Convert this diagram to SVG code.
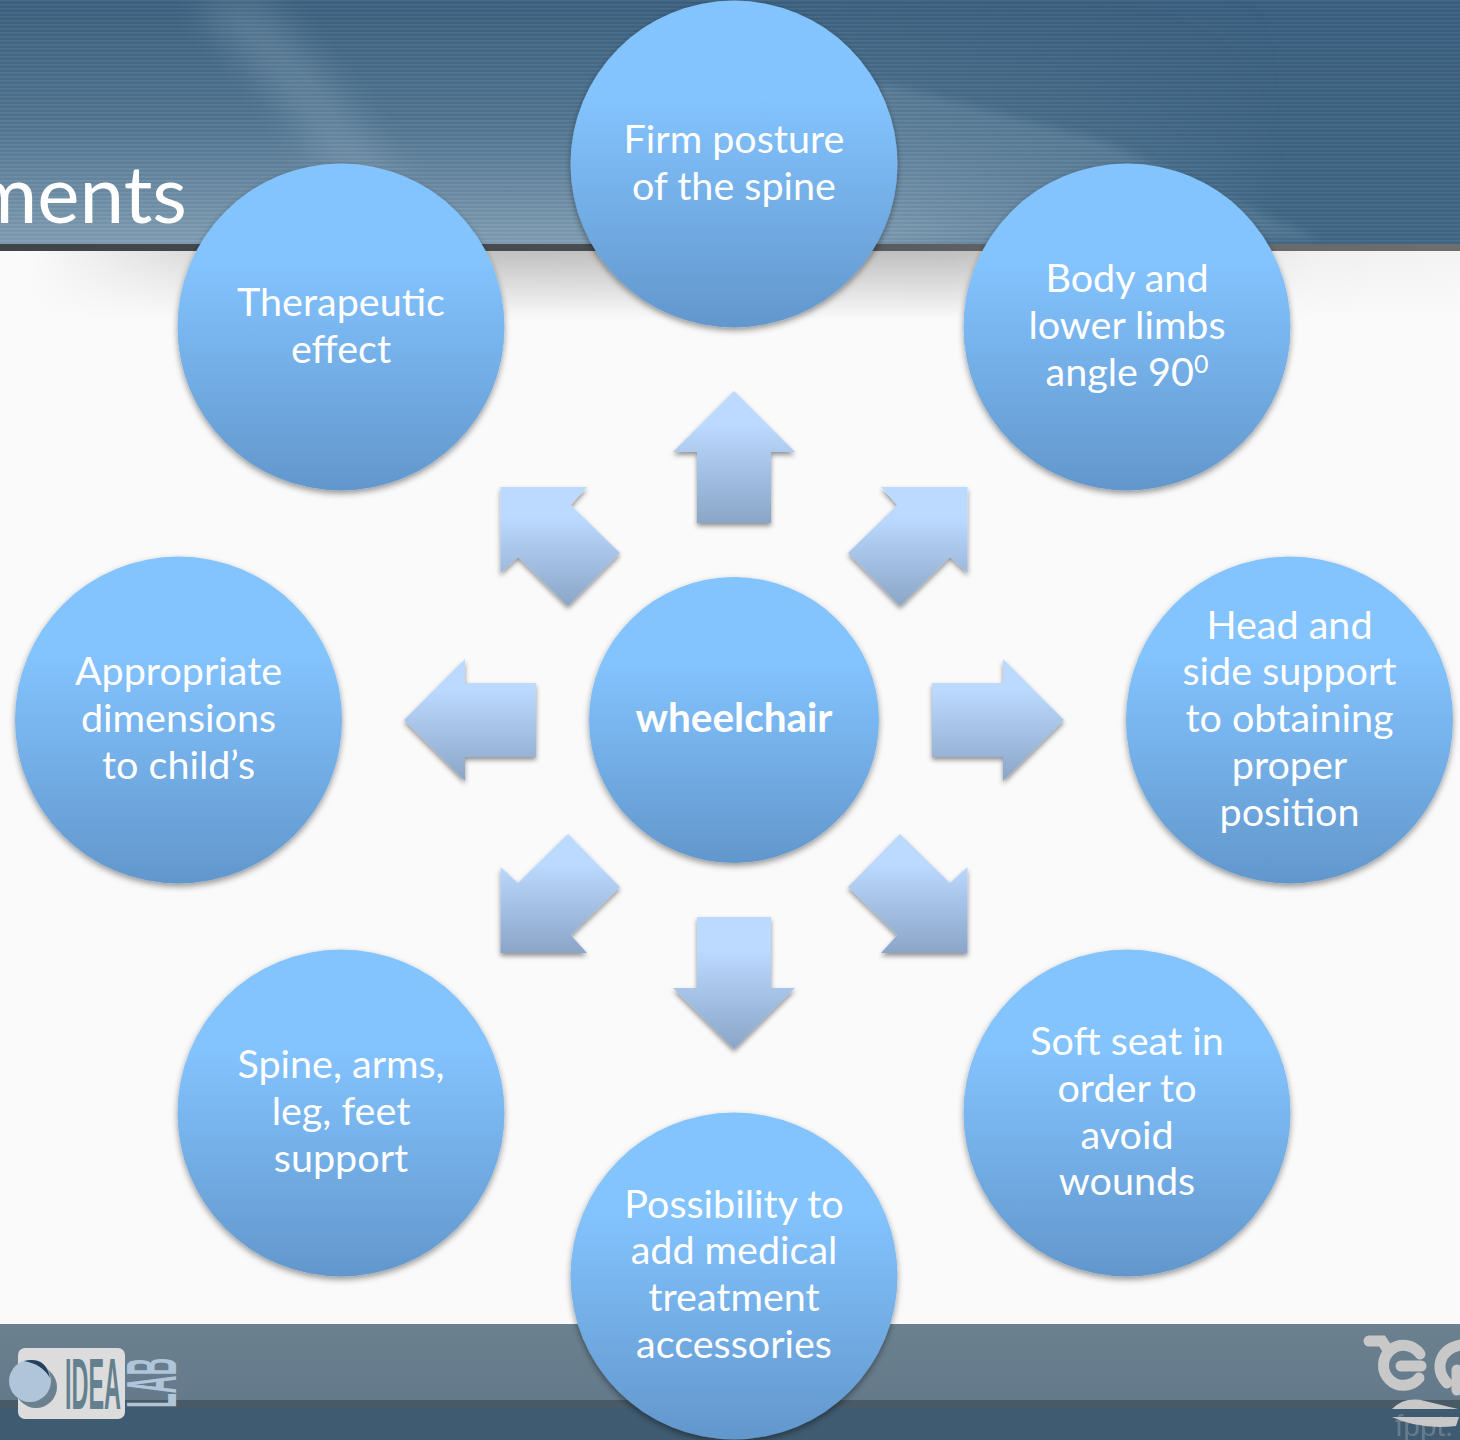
<svg xmlns="http://www.w3.org/2000/svg" width="1460" height="1440" viewBox="0 0 1460 1440">
<style>
.bub{fill:url(#bubble);filter:url(#sh)}
.arr{fill:url(#arrow);filter:url(#sh2)}
.t{font-family:"Lato","Liberation Sans",sans-serif;font-size:39.5px;fill:#fff;text-anchor:middle}
</style>
<defs>
<linearGradient id="bubble" x1="0" y1="0" x2="0" y2="1"><stop offset="0" stop-color="#83c4ff"/><stop offset=".3" stop-color="#83c3fe"/><stop offset="1" stop-color="#6297cc"/></linearGradient>
<linearGradient id="arrow" x1="0" y1="0" x2="0" y2="1"><stop offset="0" stop-color="#bcd9ff"/><stop offset=".25" stop-color="#bcd9ff"/><stop offset="1" stop-color="#8aa5c7"/></linearGradient>
<linearGradient id="head" x1="0" y1="0" x2="0" y2="1"><stop offset="0" stop-color="#3a5f7e"/><stop offset="1" stop-color="#3f6786"/></linearGradient>
<linearGradient id="headL" x1="0" y1="0" x2="0" y2="1"><stop offset="0" stop-color="#a9c0d0" stop-opacity=".02"/><stop offset=".5" stop-color="#a9c0d0" stop-opacity=".2"/><stop offset="1" stop-color="#a9c0d0" stop-opacity=".62"/></linearGradient>
<linearGradient id="fadeR" x1="0" y1="0" x2="1" y2="0"><stop offset="0" stop-color="#fff"/><stop offset=".55" stop-color="#fff"/><stop offset=".7" stop-color="#fff" stop-opacity=".55"/><stop offset=".88" stop-color="#fff" stop-opacity="0"/></linearGradient>
<mask id="headMask"><rect width="1460" height="246" fill="url(#fadeR)"/></mask>
<linearGradient id="foot" x1="0" y1="0" x2="0" y2="1"><stop offset="0" stop-color="#6b818f"/><stop offset="1" stop-color="#64798a"/></linearGradient>
<linearGradient id="shadeV" x1="0" y1="0" x2="0" y2="1"><stop offset="0" stop-color="#b8b8b8"/><stop offset="1" stop-color="#fafafa"/></linearGradient>
<linearGradient id="shadeH" x1="0" y1="0" x2="1" y2="0"><stop offset="0" stop-color="#fafafa"/><stop offset=".02" stop-color="#fafafa"/><stop offset=".22" stop-color="#fafafa" stop-opacity=".15"/><stop offset=".65" stop-color="#fafafa" stop-opacity=".1"/><stop offset=".9" stop-color="#fafafa" stop-opacity=".85"/><stop offset="1" stop-color="#fafafa" stop-opacity=".9"/></linearGradient>
<linearGradient id="lineH" x1="0" y1="0" x2="1" y2="0"><stop offset="0" stop-color="#3f4448"/><stop offset=".45" stop-color="#4a4e52"/><stop offset=".7" stop-color="#616366"/><stop offset="1" stop-color="#6e6e6e"/></linearGradient>
<pattern id="stripes" width="4" height="4" patternUnits="userSpaceOnUse"><rect width="4" height="1.500" fill="#fff" opacity=".05"/><rect y="2" width="4" height="1.500" fill="#000" opacity=".04"/></pattern>
<filter id="sh" x="-10%" y="-10%" width="120%" height="120%"><feDropShadow dx="0" dy="3" stdDeviation="3" flood-color="#000" flood-opacity=".4"/></filter>
<filter id="sh2" x="-15%" y="-15%" width="130%" height="130%"><feDropShadow dx="0" dy="3" stdDeviation="2.500" flood-color="#000" flood-opacity=".42"/></filter>
<filter id="blur" x="-20%" y="-20%" width="140%" height="140%"><feGaussianBlur stdDeviation="16"/></filter>
<filter id="blurS" x="-5%" y="-20%" width="110%" height="140%"><feGaussianBlur stdDeviation="4"/></filter>
<clipPath id="hc"><rect width="1460" height="246"/></clipPath>
</defs>
<g id="background">
<rect width="1460" height="1440" fill="#fafafa"/>
<rect width="1460" height="246" fill="url(#head)"/>
<g clip-path="url(#hc)">
<rect width="1460" height="246" fill="url(#headL)" mask="url(#headMask)"/>
<path d="M190 0L265 0L340 90L420 210L340 190L270 90Z" fill="#a9c0d0" opacity=".22" filter="url(#blur)"/>
<path d="M880 82L1100 140L1320 240H880Z" fill="#a9c0d0" opacity=".16" filter="url(#blurS)"/>
</g>
<rect width="1460" height="246" fill="url(#stripes)"/>
<rect y="244" width="1460" height="7" fill="url(#lineH)"/>
<rect y="251" width="1460" height="68" fill="url(#shadeV)"/>
<rect y="251" width="1460" height="70" fill="url(#shadeH)"/>
<rect y="1324" width="1460" height="76" fill="url(#foot)"/>
<rect y="1400" width="1460" height="8" fill="#475a66"/>
<rect y="1408" width="1460" height="32" fill="#3f5b71"/>
<text x="187" y="223" font-family="Lato,'Liberation Sans',sans-serif" font-size="80" fill="#fff" text-anchor="end">ments</text>
</g>
<g id="logo-left">
<rect x="18" y="1348" width="107" height="71" rx="7" fill="#dcdcdc"/>
<circle cx="36" cy="1387" r="21" fill="#6b818f"/>
<circle cx="30" cy="1381" r="21" fill="#b0c4da"/>
<path d="M24 1361Q46 1356 50 1378Q42 1364 24 1361Z" fill="#25405c"/>
<text x="65" y="1409" font-family="'Liberation Sans',sans-serif" font-weight="700" font-size="72" fill="#64808f" textLength="56" lengthAdjust="spacingAndGlyphs">IDEA</text>
<text transform="translate(176,1408) rotate(-90)" font-family="'Liberation Sans',sans-serif" font-weight="700" font-size="70" fill="#b0c4da" textLength="50" lengthAdjust="spacingAndGlyphs">LAB</text>
</g>
<g id="logo-right" fill="none" stroke="#c8c8c8" stroke-width="11" stroke-linecap="round">
<text x="1395" y="1436" font-family="'Liberation Sans',sans-serif" font-size="30" fill="#8e9ea8" stroke="none" opacity=".5">fppt.</text>
<path d="M1369 1341H1382L1388 1350"/>
<path d="M1420 1354A20 20 0 1 0 1419 1378"/>
<path d="M1401 1366H1421"/>
<path d="M1447 1383C1435 1370 1438 1350 1460 1345"/>
<path d="M1457 1370V1390"/>
<path d="M1392 1409Q1405 1396 1425 1401L1458 1409Z" fill="#c8c8c8" stroke="none"/>
<path d="M1392 1417H1459L1456 1426Q1420 1430 1392 1417Z" fill="#c8c8c8" stroke="none"/>
</g>
<g id="connectors">
<path class="arr" d="M734 391L795 452H771V523H697V452H673Z"/>
<path class="arr" d="M500.500 487H587L570.700 505L620 553L568 606L518 557L500.500 573Z"/>
<path class="arr" d="M967.500 487H881L897.300 505L848 553L900 606L950 557L967.500 573Z"/>
<path class="arr" d="M404 720L465 659V683H536V757H465V781Z"/>
<path class="arr" d="M1064 720L1003 659V683H932V757H1003V781Z"/>
<path class="arr" d="M500.500 953H587L570.700 935L620 887L568 834L518 883L500.500 867Z"/>
<path class="arr" d="M967.500 953H881L897.300 935L848 887L900 834L950 883L967.500 867Z"/>
<path class="arr" d="M734 1049L795 988H771V917H697V988H673Z"/>
</g>
<g id="n-top"><circle class="bub" cx="734" cy="164" r="163.500"/><text class="t" x="734" y="153">Firm posture</text><text class="t" x="734" y="200">of the spine</text></g>
<g id="n-ne"><circle class="bub" cx="1127" cy="327" r="163.500"/><text class="t" x="1127" y="292">Body and</text><text class="t" x="1127" y="339">lower limbs</text><text class="t" x="1127" y="386">angle 90<tspan font-size="25" dy="-13">0</tspan></text></g>
<g id="n-e"><circle class="bub" cx="1289.500" cy="720" r="163.500"/><text class="t" x="1289.500" y="639">Head and</text><text class="t" x="1289.500" y="685">side support</text><text class="t" x="1289.500" y="732">to obtaining</text><text class="t" x="1289.500" y="779">proper</text><text class="t" x="1289.500" y="826">position</text></g>
<g id="n-se"><circle class="bub" cx="1127" cy="1113" r="163.500"/><text class="t" x="1127" y="1055">Soft seat in</text><text class="t" x="1127" y="1102">order to</text><text class="t" x="1127" y="1149">avoid</text><text class="t" x="1127" y="1195">wounds</text></g>
<g id="n-s"><circle class="bub" cx="734" cy="1276" r="163.500"/><text class="t" x="734" y="1218">Possibility to</text><text class="t" x="734" y="1264">add medical</text><text class="t" x="734" y="1311">treatment</text><text class="t" x="734" y="1358">accessories</text></g>
<g id="n-sw"><circle class="bub" cx="341" cy="1113" r="163.500"/><text class="t" x="341" y="1078">Spine, arms,</text><text class="t" x="341" y="1125">leg, feet</text><text class="t" x="341" y="1172">support</text></g>
<g id="n-w"><circle class="bub" cx="178.500" cy="720" r="163.500"/><text class="t" x="178.500" y="685">Appropriate</text><text class="t" x="178.500" y="732">dimensions</text><text class="t" x="178.500" y="779">to child’s</text></g>
<g id="n-nw"><circle class="bub" cx="341" cy="327" r="163.500"/><text class="t" x="341" y="316">Therapeutic</text><text class="t" x="341" y="363">effect</text></g>
<g id="n-center"><ellipse class="bub" cx="734" cy="720" rx="145" ry="143"/><text class="t" x="734" y="732" font-weight="700" style="font-size:40.500px">wheelchair</text></g>
</svg>
